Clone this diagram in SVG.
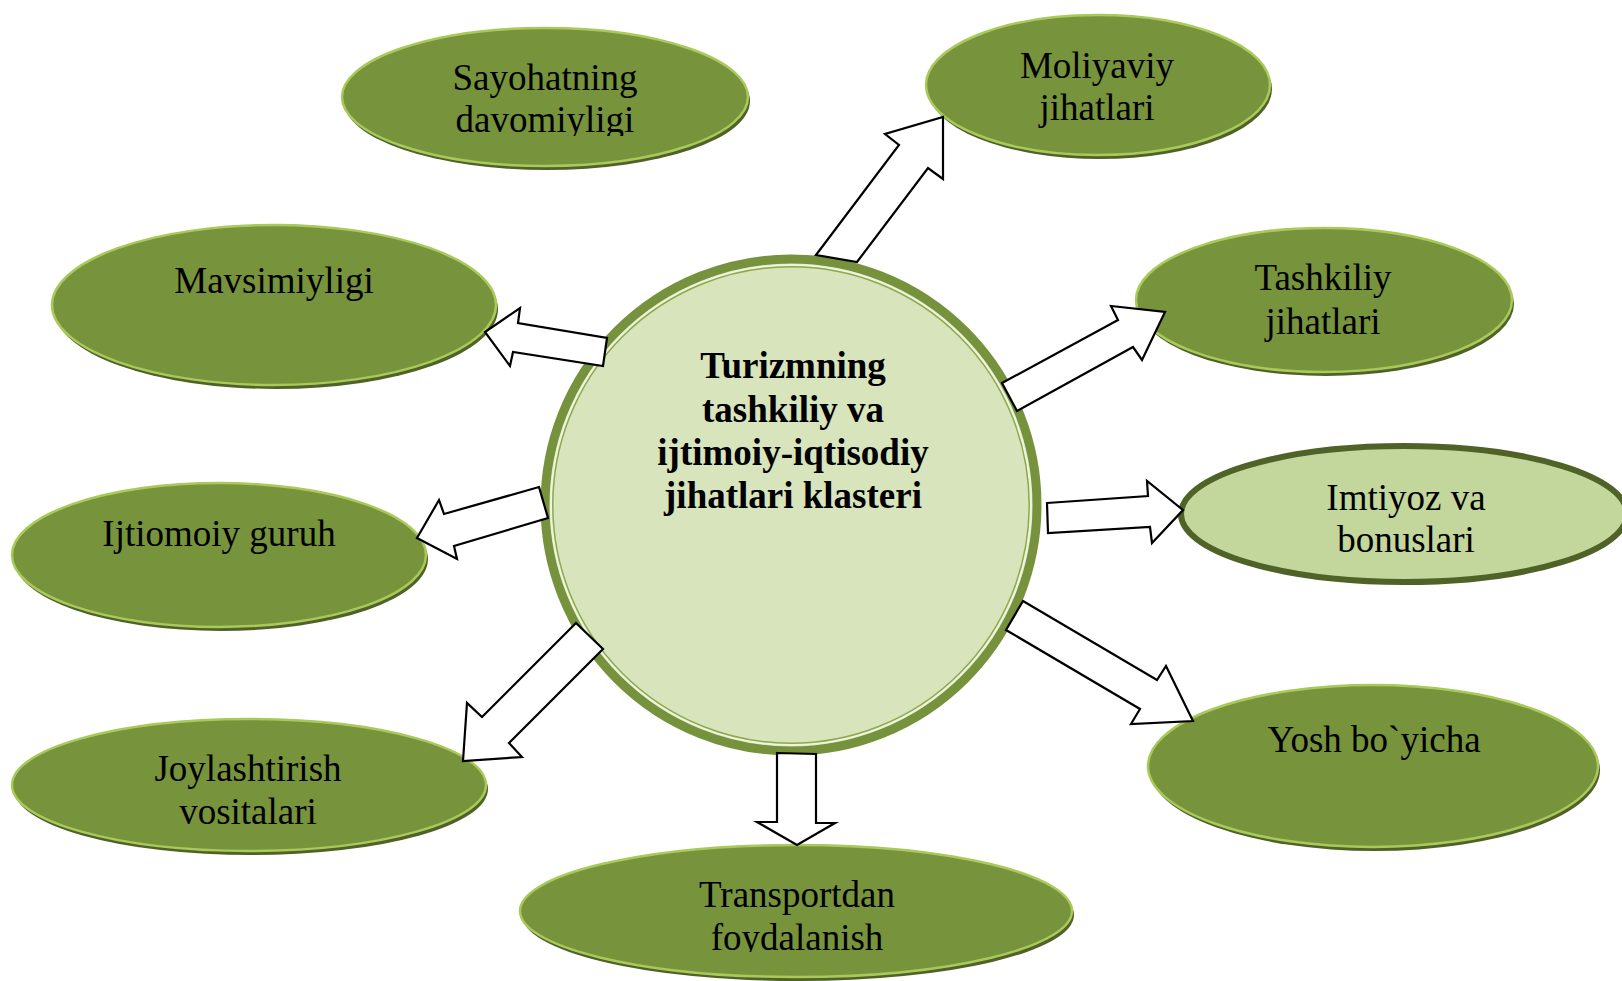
<svg xmlns="http://www.w3.org/2000/svg" width="1622" height="981" viewBox="0 0 1622 981">
<defs>
<style>
.sh{fill:#4F6228;}
.nd{fill:#77933C;stroke:#A9C95A;stroke-width:2.5;}
.t{font-family:"Liberation Serif","Times New Roman",serif;font-size:37px;fill:#000;text-anchor:middle;}
.tb{font-family:"Liberation Serif","Times New Roman",serif;font-size:37px;font-weight:bold;fill:#000;text-anchor:middle;}
.ar{fill:#fff;stroke:#000;stroke-width:2.2;stroke-linejoin:miter;}
</style>
<clipPath id="c1"><rect x="300" y="0" width="500" height="136"/></clipPath>
<clipPath id="c2"><rect x="500" y="840" width="600" height="112"/></clipPath>
</defs>
<rect width="1622" height="981" fill="#fff"/>

<g id="node-sayohat">
<ellipse class="sh" cx="547" cy="101" rx="203" ry="69"/>
<ellipse class="nd" cx="545" cy="97" rx="203" ry="69"/>
<g clip-path="url(#c1)">
<text class="t" x="545" y="90">Sayohatning</text>
<text class="t" x="545" y="132">davomiyligi</text>
</g>
</g>

<g id="node-moliyaviy">
<ellipse class="sh" cx="1100" cy="89" rx="172" ry="70"/>
<ellipse class="nd" cx="1098" cy="85" rx="172" ry="70"/>
<text class="t" x="1097" y="78">Moliyaviy</text>
<text class="t" x="1097" y="120">jihatlari</text>
</g>

<g id="node-tashkiliy">
<ellipse class="sh" cx="1326" cy="304" rx="188" ry="72"/>
<ellipse class="nd" cx="1324" cy="300" rx="188" ry="72"/>
<text class="t" x="1323" y="290">Tashkiliy</text>
<text class="t" x="1323" y="334">jihatlari</text>
</g>

<g id="node-imtiyoz">
<ellipse cx="1404" cy="514" rx="223" ry="68" fill="#C3D69B" stroke="#4F6228" stroke-width="6"/>
<text class="t" x="1406" y="510">Imtiyoz va</text>
<text class="t" x="1406" y="552">bonuslari</text>
</g>

<g id="node-yosh">
<ellipse class="sh" cx="1375" cy="770" rx="225" ry="81"/>
<ellipse class="nd" cx="1373" cy="766" rx="225" ry="81"/>
<text class="t" x="1374" y="752">Yosh bo`yicha</text>
</g>

<g id="node-transport">
<ellipse class="sh" cx="798" cy="915" rx="276" ry="66"/>
<ellipse class="nd" cx="796" cy="911" rx="276" ry="66"/>
<g clip-path="url(#c2)">
<text class="t" x="797" y="907">Transportdan</text>
<text class="t" x="797" y="950">foydalanish</text>
</g>
</g>

<g id="node-joylashtirish">
<ellipse class="sh" cx="251" cy="789" rx="237" ry="66"/>
<ellipse class="nd" cx="249" cy="785" rx="237" ry="66"/>
<text class="t" x="248" y="781">Joylashtirish</text>
<text class="t" x="248" y="824">vositalari</text>
</g>

<g id="node-ijtiomoiy">
<ellipse class="sh" cx="221" cy="559" rx="207" ry="72"/>
<ellipse class="nd" cx="219" cy="555" rx="207" ry="72"/>
<text class="t" x="219" y="546">Ijtiomoiy guruh</text>
</g>

<g id="node-mavsimiy">
<ellipse class="sh" cx="276" cy="309" rx="222" ry="80"/>
<ellipse class="nd" cx="274" cy="305" rx="222" ry="80"/>
<text class="t" x="274" y="293">Mavsimiyligi</text>
</g>

<g id="node-center">
<circle cx="791" cy="505" r="246" fill="#D7E4BC" stroke="#76923C" stroke-width="9"/>
<circle cx="791" cy="505" r="240" fill="none" stroke="#EEF3E2" stroke-width="2"/>
<circle cx="791" cy="505" r="238.2" fill="none" stroke="#8EAA4A" stroke-width="1.5"/>
<text class="tb" x="793" y="378">Turizmning</text>
<text class="tb" x="793" y="422">tashkiliy va</text>
<text class="tb" x="793" y="465">ijtimoiy-iqtisodiy</text>
<text class="tb" x="793" y="508">jihatlari klasteri</text>
</g>

<g id="connectors">
<polygon class="ar" points="816,255 899,145 885,134 943,117 943,179 928,168 857,262"/>
<polygon class="ar" points="1002,383 1118,320 1111,306 1165,312 1142,360 1133,347 1017,411"/>
<polygon class="ar" points="1047,503 1148,496 1147,481 1183,510 1152,543 1150,527 1048,533"/>
<polygon class="ar" points="1023,601 1157,680 1166,666 1193,721 1131,724 1140,709 1006,630"/>
<polygon class="ar" points="777,753 816,754 816,823 835,823 797,845 757,822 777,822"/>
<polygon class="ar" points="576,623 603,649 509,743 522,757 463,761 467,703 482,717"/>
<polygon class="ar" points="539,487 548,518 454,546 457,559 417,538 439,500 444,514"/>
<polygon class="ar" points="607,338 603,366 513,352 510,366 485,332 520,308 518,323"/>
</g>
</svg>
